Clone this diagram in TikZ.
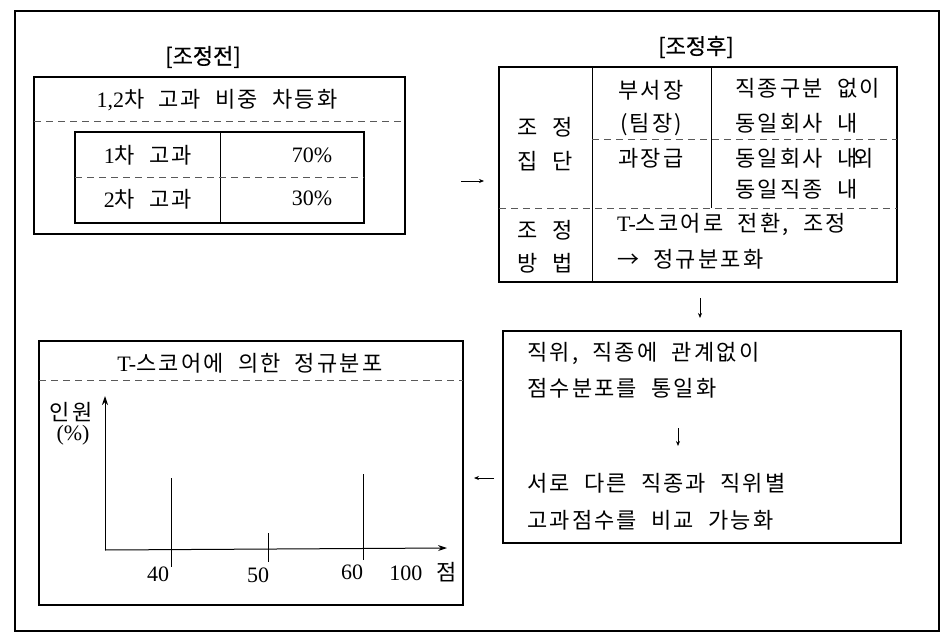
\documentclass[tikz,border=0pt]{standalone}
\usepackage{fontspec}
\setmainfont[LetterSpace=10,WordSpace=2.0]{Noto Sans CJK KR}
\newfontfamily\headfont[FakeBold=0.6]{Noto Sans CJK KR}
\newfontfamily\lat{Liberation Serif}
\usetikzlibrary{arrows.meta}
\newcommand\ktsize{\fontsize{22}{26}\selectfont}
\newcommand\hdsize{\fontsize{22}{26}\selectfont\headfont}
\begin{document}
\begin{tikzpicture}[x=1pt,y=-1pt,
  frame/.style={draw, line width=1.1pt, inner sep=0pt, outer sep=0pt, anchor=north west},
  box/.style={draw, line width=1.5pt, inner sep=0pt, outer sep=0pt, anchor=north west},
  rulel/.style={line width=0.8pt},
  dashrule/.style={line width=0.6pt, dash pattern=on 7pt off 5pt, black!65},
  txt/.style={inner sep=0pt, font=\ktsize},
  ltxt/.style={inner sep=0pt, font=\ktsize, anchor=west},
  head/.style={inner sep=0pt, font=\hdsize},
  tip/.style={-{Stealth[length=5pt,width=4pt]}, line width=0.7pt},
  axis/.style={-{Stealth[length=9pt,width=6pt]}, line width=1pt}
]
\useasboundingbox (0,0) rectangle (948,642);
% outer frame
\node[frame, minimum width=924pt, minimum height=620pt] (outer) at (15,11) {};

% ---------- before ----------
\node[head] (pretitle) at (203,57) {[조정전]};
\node[box, minimum width=371pt, minimum height=157pt] (pre) at (34,77) {};
\node[txt] (pretop) at (217,100) {{\lat 1,2}차 고과 비중 차등화};
\draw[dashrule] (34,121) -- (405,121);
\node[box, line width=1.3pt, minimum width=289pt, minimum height=91pt] (tab) at (75,132) {};
\draw[rulel] (220,132) -- (220,223);
\draw[dashrule] (75,177) -- (364,177);
\node[txt] (r1a) at (148,155) {{\lat 1}차 고과};
\node[txt] (r1b) at (312,155) {\lat 70\%};
\node[txt] (r2a) at (148,199) {{\lat 2}차 고과};
\node[txt] (r2b) at (312,198) {\lat 30\%};

% ---------- after ----------
\node[head] (posttitle) at (696,47) {[조정후]};
\node[box, minimum width=398pt, minimum height=215pt] (post) at (499,67) {};
\draw[rulel] (592,67) -- (592,282);
\draw[rulel] (711,67) -- (711,208);
\draw[dashrule] (592,139) -- (897,139);
\draw[dashrule] (499,208) -- (897,208);
\node[txt] (g1) at (545,127) {조 정};
\node[txt] (g2) at (545,161) {집 단};
\node[txt] (m1) at (545,230) {조 정};
\node[txt] (m2) at (545,263) {방 법};
\node[txt] (p1) at (651,90) {부서장};
\node[txt] (p2) at (651,125) {(팀장)};
\node[txt] (p3) at (651,158) {과장급};
\node[ltxt] (s1) at (735,88) {직종구분 없이};
\node[ltxt] (s2) at (735,123) {동일회사 내};
\node[ltxt] (s3) at (735,158) {동일회사 내\kern-4pt 외};
\node[ltxt] (s4) at (735,189) {동일직종 내};
\node[ltxt] (t1) at (617,224) {{\lat T-}스코어로 전환, 조정};
\node[ltxt] (t2) at (617,259) {→ 정규분포화};

% ---------- result ----------
\node[box, minimum width=398pt, minimum height=212pt] (res) at (503,331) {};
\node[ltxt] (e1) at (527,353) {직위, 직종에 관계없이};
\node[ltxt] (e2) at (527,388) {점수분포를 통일화};
\node[ltxt] (e3) at (527,483) {서로 다른 직종과 직위별};
\node[ltxt] (e4) at (527,520) {고과점수를 비교 가능화};
\coordinate (d2s) at (678,428);
\coordinate (d2e) at (678,446);
\draw[tip] (d2s) -- (d2e);

% ---------- chart ----------
\node[box, minimum width=424pt, minimum height=264pt] (chart) at (39,341) {};
\node[txt] (ctitle) at (250,363) {{\lat T-}스코어에 의한 정규분포};
\draw[dashrule] (39,380) -- (463,380);
\coordinate (o) at (105,550);
\coordinate (ytop) at (105,396);
\coordinate (xend) at (447,548);
\draw[axis] (o) -- (ytop);
\draw[axis] (o) -- (xend);
\draw[line width=0.9pt] (171,478) -- (171,567);
\draw[line width=0.9pt] (268,533) -- (268,562);
\draw[line width=0.9pt] (363,474) -- (363,560);
\node[txt] (l40) at (158,574) {\lat 40};
\node[txt] (l50) at (258,575) {\lat 50};
\node[txt] (l60) at (352,572) {\lat 60};
\node[txt] (l100) at (423,572) {{\lat 100} 점};
\node[txt] (ylab1) at (71,412) {인원};
\node[txt] (ylab2) at (73,435) {\lat (\%)};

% ---------- connectors ----------
\coordinate (a1s) at (461,181);
\coordinate (a1e) at (484,181);
\draw[tip] (a1s) -- (a1e);
\coordinate (a2s) at (700,298);
\coordinate (a2e) at (700,318);
\draw[tip] (a2s) -- (a2e);
\coordinate (a3s) at (494,478);
\coordinate (a3e) at (474,478);
\draw[tip] (a3s) -- (a3e);
\end{tikzpicture}
\end{document}
